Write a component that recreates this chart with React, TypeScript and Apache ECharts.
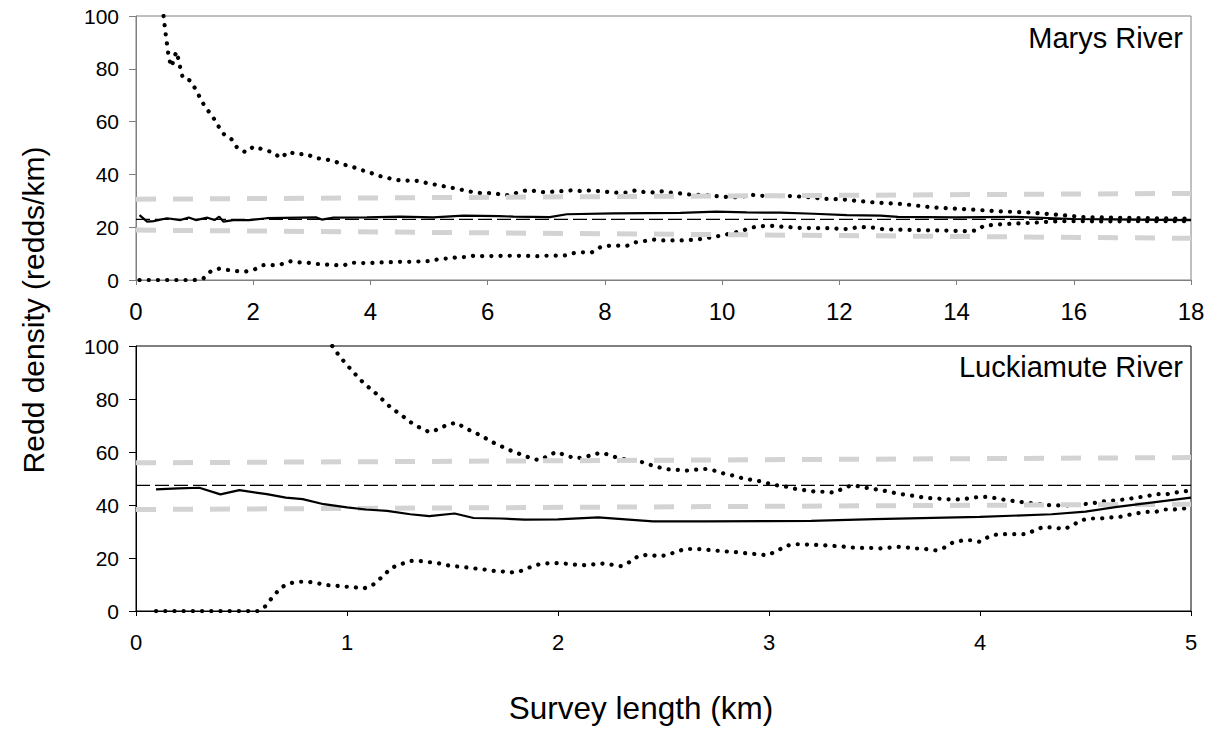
import React, { useEffect, useRef } from "react";
import * as echarts from "echarts";

// ---------- Data (km, redds/km) ----------
const marysXTicks = [0, 2, 4, 6, 8, 10, 12, 14, 16, 18];
const luckXTicks = [0, 1, 2, 3, 4, 5];
const yTicks = [0, 20, 40, 60, 80, 100];

const marysTrue = [[0, 23], [18, 23]];
const marysBandHi = [[0, 30.6], [18, 32.8]];
const marysBandLo = [[0, 18.9], [18, 15.8]];

const marysMean = [
  [0.06, 24.6], [0.19, 22.1], [0.3, 22.3], [0.53, 23.4], [0.76, 22.7], [0.9, 23.7], [1.02, 22.7],
  [1.22, 23.6], [1.34, 22.7], [1.42, 24.0], [1.49, 22.1], [1.66, 22.7], [1.94, 22.7], [2.23, 23.4],
  [2.8, 23.6], [3.08, 23.7], [3.17, 22.9], [3.37, 23.6], [3.94, 23.7], [4.5, 24.0], [5.07, 23.7],
  [5.59, 24.4], [6.2, 24.2], [6.44, 24.0], [7.06, 23.8], [7.35, 24.9], [8.15, 25.2], [9.29, 25.4],
  [9.9, 25.9], [10.42, 25.6], [10.99, 25.5], [11.56, 25.1], [12.13, 24.6], [12.7, 24.4], [13.0, 23.9],
  [14.0, 23.7], [15.0, 23.9], [16.0, 23.1], [17.0, 22.9], [18, 22.7],
];

const marysUpper = [
  [0.47, 100], [0.49, 96.2], [0.51, 92.5], [0.53, 89.2], [0.55, 85.8], [0.58, 82.6], [0.61, 80.8],
  [0.65, 84.2], [0.69, 86.5], [0.73, 83.2], [0.76, 79.8], [0.8, 76.5], [0.92, 75.6], [1.02, 72.2],
  [1.1, 68.7], [1.18, 65.5], [1.3, 62.2], [1.39, 58.8], [1.49, 55.4], [1.63, 53.3], [1.73, 50],
  [1.87, 48.4], [2.01, 50.6], [2.17, 49.4], [2.33, 48.4], [2.47, 46.2], [2.6, 48.6], [2.75, 47.6],
  [2.9, 47.8], [3.05, 46.3], [3.21, 45.7], [3.36, 45.2], [3.52, 43.8], [3.66, 43.2], [3.82, 41.8],
  [3.97, 40.9], [4.12, 39.6], [4.27, 38.8], [4.42, 38], [4.57, 37.5], [4.72, 37.8], [4.88, 37.2],
  [5.02, 36.4], [5.18, 35.9], [5.33, 35.1], [5.48, 34.6], [5.64, 33.7], [5.78, 33.2], [5.93, 32.8],
  [6.1, 33], [6.25, 32.2], [6.4, 32.2], [6.55, 33.5], [6.71, 34.1], [6.85, 33.5], [7.01, 33.2],
  [7.16, 33.6], [7.31, 33.7], [7.46, 34], [7.62, 33.6], [7.76, 34], [7.92, 33.6], [8.07, 33.3],
  [8.22, 33.1], [8.37, 33.1], [8.53, 34], [8.67, 33.3], [8.83, 33.2], [8.98, 33.6], [9.13, 33.1],
  [9.28, 32.8], [9.43, 32.4], [9.59, 32.3], [9.74, 32.1], [9.89, 31.8], [10.05, 31.5], [10.2, 31.3],
  [10.35, 31.6], [10.49, 32.3], [10.65, 31.9], [10.8, 31.9], [10.95, 31.8], [11.1, 31.8], [11.25, 31.8],
  [11.4, 31.4], [11.56, 31.3], [11.71, 30.7], [11.86, 30.7], [12.01, 30.6], [12.16, 30.3], [12.32, 29.9],
  [12.47, 29.7], [12.62, 29.3], [13.07, 28.8], [13.6, 27.5], [14.17, 26.8], [14.74, 26], [15.31, 25.5],
  [15.77, 24.6], [16.2, 23.8], [17.0, 23.5], [18, 23.2],
];

const marysLower = [
  [0.06, 0], [1.0, 0], [1.15, 0.6], [1.28, 3.4], [1.42, 4.3], [1.57, 3.8], [1.72, 3.4], [1.87, 3.2],
  [2.02, 4.0], [2.17, 5.6], [2.31, 5.6], [2.46, 5.8], [2.62, 7.1], [2.77, 6.7], [2.92, 6.6], [3.07, 6.1],
  [3.23, 5.9], [3.37, 5.7], [3.53, 5.4], [3.67, 6.6], [3.83, 6.4], [3.98, 6.4], [4.13, 6.6], [4.28, 6.7],
  [4.43, 6.9], [4.73, 6.9], [4.89, 7.1], [5.04, 7.2], [5.19, 8.1], [5.34, 8.1], [5.49, 8.7], [5.64, 8.7],
  [5.79, 9.3], [5.94, 9.0], [6.1, 9.1], [6.4, 9.2], [6.71, 9.1], [6.86, 9.0], [7.01, 9.2], [7.17, 9.2],
  [7.32, 9.3], [7.47, 10.2], [7.62, 10.5], [7.77, 10.4], [7.92, 12.4], [8.08, 13], [8.38, 13], [8.53, 14.3],
  [8.69, 14.8], [8.83, 15.3], [8.99, 15], [9.29, 15], [9.44, 15.2], [9.6, 15.4], [9.75, 15.9], [9.9, 16.5],
  [10.06, 17.2], [10.21, 17.9], [10.36, 18.8], [10.51, 19.9], [10.66, 20.3], [10.81, 20.6], [10.97, 20.3],
  [11.11, 20.1], [11.27, 19.8], [11.42, 19.7], [11.88, 19.6], [12.03, 19.3], [12.17, 19.3], [12.32, 20.1],
  [12.47, 20], [12.62, 19.8], [12.75, 19.2], [13.32, 18.9], [13.89, 18.7], [14.15, 18.5], [14.35, 18.8],
  [14.46, 20.5], [14.74, 21.1], [15.31, 21.7], [15.77, 22.3], [16.5, 22.2], [17.2, 22.3], [18, 22.3],
];

const luckTrue = [[0, 47.4], [5, 47.4]];
const luckBandHi = [[0, 55.9], [5, 57.9]];
const luckBandLo = [[0, 38.3], [5, 40.3]];

const luckMean = [
  [0.095, 45.9], [0.2, 46.3], [0.3, 46.5], [0.4, 44], [0.49, 45.6], [0.62, 44.1], [0.71, 42.8],
  [0.79, 42.2], [0.89, 40.3], [1.0, 39.1], [1.09, 38.3], [1.19, 37.8], [1.3, 36.5], [1.39, 35.8],
  [1.51, 36.8], [1.6, 35.1], [1.73, 34.9], [1.84, 34.5], [2.0, 34.6], [2.19, 35.3], [2.45, 33.8],
  [2.7, 33.8], [2.99, 33.9], [3.2, 34.0], [3.5, 34.7], [4.0, 35.5], [4.34, 36.5], [4.5, 37.5],
  [4.65, 39.3], [5.0, 42.8],
];

const luckUpper = [
  [0.93, 100], [0.963, 96.3], [1.0, 92.8], [1.04, 89.3], [1.08, 85.9], [1.13, 82.6], [1.17, 79.6],
  [1.21, 76.6], [1.26, 73.8], [1.3, 71.3], [1.34, 69.4], [1.39, 67.5], [1.43, 68.5], [1.48, 70.5],
  [1.52, 71], [1.56, 69], [1.61, 67.2], [1.65, 65.5], [1.69, 63.7], [1.73, 62.2], [1.78, 60.4],
  [1.82, 59.2], [1.87, 57.7], [1.91, 56.9], [1.95, 58.4], [1.99, 60], [2.04, 58.7], [2.08, 57.6],
  [2.13, 58.1], [2.17, 59.2], [2.21, 59.7], [2.26, 58.4], [2.3, 57.4], [2.35, 57], [2.39, 56.4],
  [2.43, 55.3], [2.48, 54.2], [2.52, 53.5], [2.56, 53.3], [2.61, 53.0], [2.65, 53.3], [2.7, 53.6],
  [2.74, 53.0], [2.78, 52.0], [2.83, 51.1], [2.87, 50.2], [2.91, 49.6], [2.96, 48.9], [3.0, 48.1],
  [3.04, 47.4], [3.09, 46.8], [3.13, 46], [3.17, 45.6], [3.22, 45], [3.26, 45], [3.31, 44.7],
  [3.35, 46.2], [3.39, 47.4], [3.43, 47.0], [3.48, 46.2], [3.53, 45.6], [3.57, 45], [3.61, 44.3],
  [3.65, 43.8], [3.7, 43.3], [3.74, 42.7], [3.79, 42.5], [3.83, 42.2], [3.88, 42.1], [3.92, 42.2],
  [3.96, 42.7], [4.0, 43.1], [4.04, 43.0], [4.08, 42.5], [4.13, 41.8], [4.18, 41.3], [4.22, 40.9],
  [4.26, 40.6], [4.31, 40], [4.36, 39.9], [4.4, 39.8], [4.45, 40], [4.49, 40.3], [4.53, 40.6],
  [4.57, 41.2], [4.61, 41.6], [4.65, 41.8], [4.7, 42.2], [4.74, 42.8], [4.79, 43.3], [4.83, 44.1],
  [4.88, 44], [4.92, 44.6], [4.97, 45.2], [5.0, 45.4],
];

const luckLower = [
  [0.095, 0], [0.58, 0], [0.615, 1.9], [0.65, 5.6], [0.69, 9], [0.73, 10.5], [0.77, 11], [0.81, 11.1],
  [0.86, 10.5], [0.9, 9.8], [0.95, 9.5], [0.99, 9.2], [1.03, 9], [1.08, 8.5], [1.12, 9.7], [1.17, 13.1],
  [1.21, 16.3], [1.25, 17.5], [1.3, 18.9], [1.34, 18.9], [1.38, 18.5], [1.43, 18.1], [1.47, 17.3],
  [1.51, 16.9], [1.56, 16.5], [1.6, 16.1], [1.64, 15.8], [1.69, 15.2], [1.73, 15], [1.77, 14.5],
  [1.82, 15], [1.86, 16.3], [1.91, 17.6], [1.95, 18], [1.99, 18.1], [2.03, 17.9], [2.08, 17.5],
  [2.12, 17.3], [2.17, 17.6], [2.21, 17.9], [2.25, 17.5], [2.3, 16.9], [2.34, 18.5], [2.38, 20.7],
  [2.43, 21.3], [2.47, 20.7], [2.51, 21], [2.56, 22.3], [2.6, 23.4], [2.64, 23.4], [2.69, 23.3],
  [2.73, 22.9], [2.78, 22.6], [2.82, 22.3], [2.86, 22.1], [2.9, 21.7], [2.95, 21.4], [2.99, 21],
  [3.04, 22.7], [3.08, 24.6], [3.13, 25.2], [3.17, 25.1], [3.21, 25], [3.26, 24.8], [3.3, 24.6],
  [3.35, 24.3], [3.39, 24.0], [3.43, 23.8], [3.48, 23.8], [3.53, 23.6], [3.57, 23.9], [3.61, 24.2],
  [3.65, 24], [3.7, 23.6], [3.74, 23.4], [3.79, 22.9], [3.83, 23.9], [3.87, 25.8], [3.92, 26.7],
  [3.96, 26.7], [4.0, 26.1], [4.04, 28], [4.08, 28.9], [4.13, 29], [4.22, 29], [4.26, 30.5],
  [4.3, 31.7], [4.35, 31.5], [4.4, 30.9], [4.44, 32.4], [4.48, 34.3], [4.53, 34.9], [4.57, 34.9],
  [4.61, 35.3], [4.65, 35.3], [4.7, 36.2], [4.74, 36.8], [4.79, 37.4], [4.83, 37.4], [4.88, 38.3],
  [4.92, 38.3], [4.97, 38.7], [5.0, 39.1],
];

const FONT = "'Liberation Sans', Arial, Helvetica, sans-serif";

function makeSeries(idx: number, upper: number[][], lower: number[][], hi: number[][], lo: number[][], tru: number[][], mean: number[][]) {
  const base = { type: "line", xAxisIndex: idx, yAxisIndex: idx, showSymbol: false, symbol: "none", silent: true, clip: true };
  const dotted = { color: "#000", width: 4.2, type: [0.1, 9.1], cap: "round" };
  const gray = { color: "#d3d3d3", width: 5, type: [20, 17], cap: "butt" };
  return [
    { ...base, name: "upper", data: upper, lineStyle: dotted, z: 2 },
    { ...base, name: "lower", data: lower, lineStyle: dotted, z: 2 },
    { ...base, name: "hi", data: hi, lineStyle: gray, z: 3 },
    { ...base, name: "lo", data: lo, lineStyle: gray, z: 3 },
    { ...base, name: "true", data: tru, lineStyle: { color: "#000", width: 1.2, type: [14, 5] }, z: 4 },
    { ...base, name: "mean", data: mean, lineStyle: { color: "#000", width: 2.2 }, z: 5 },
  ];
}

function xAxis(idx: number, max: number, interval: number, color: string, fontSize: number, margin: number) {
  return {
    type: "value", gridIndex: idx, min: 0, max, interval,
    axisLine: { show: true, onZero: false, lineStyle: { color, width: 1 } },
    axisTick: { show: true, inside: false, length: 5, lineStyle: { color } },
    axisLabel: { fontSize, color: "#000", fontFamily: FONT, margin },
    splitLine: { show: false },
  };
}
function yAxis(idx: number, color: string) {
  return {
    type: "value", gridIndex: idx, min: yTicks[0], max: yTicks[yTicks.length - 1], interval: yTicks[1] - yTicks[0],
    axisLine: { show: true, onZero: false, lineStyle: { color, width: 1 } },
    axisTick: { show: true, inside: false, length: 7, lineStyle: { color } },
    axisLabel: { fontSize: 21, color: "#000", fontFamily: FONT, margin: 17 },
    splitLine: { show: false },
  };
}

export default function App() {
  const ref = useRef<HTMLDivElement>(null);
  useEffect(() => {
    document.body.style.margin = "0";
    const chart = echarts.init(ref.current!, null, { renderer: "svg" });
    const option = {
      animation: false,
      backgroundColor: "#fff",
      grid: [
        { left: 136, top: 16, width: 1055, height: 264, show: true, borderColor: "#808080", borderWidth: 1, backgroundColor: "transparent" },
        { left: 136, top: 346, width: 1055, height: 265, show: true, borderColor: "#000", borderWidth: 1, backgroundColor: "transparent" },
      ],
      xAxis: [
        xAxis(0, marysXTicks[marysXTicks.length - 1], marysXTicks[1] - marysXTicks[0], "#808080", 24, 19),
        xAxis(1, luckXTicks[luckXTicks.length - 1], luckXTicks[1] - luckXTicks[0], "#000", 22, 20),
      ],
      yAxis: [yAxis(0, "#808080"), yAxis(1, "#000")],
      series: [
        ...makeSeries(0, marysUpper, marysLower, marysBandHi, marysBandLo, marysTrue, marysMean),
        ...makeSeries(1, luckUpper, luckLower, luckBandHi, luckBandLo, luckTrue, luckMean),
      ],
      graphic: [
        { type: "text", right: 29, top: 23, style: { text: "Marys River", font: `29px ${FONT}`, fill: "#000" } },
        { type: "text", right: 29, top: 352, style: { text: "Luckiamute River", font: `29px ${FONT}`, fill: "#000" } },
        { type: "text", x: 33, y: 310, rotation: Math.PI / 2, style: { text: "Redd density (redds/km)", font: `30px ${FONT}`, fill: "#000", align: "center", verticalAlign: "middle" } },
        { type: "text", x: 641, y: 708, style: { text: "Survey length (km)", font: `31.5px ${FONT}`, fill: "#000", align: "center", verticalAlign: "middle" } },
      ],
    };
    chart.setOption(option as any);
    return () => chart.dispose();
  }, []);
  return <div ref={ref} style={{ width: 1212, height: 730 }} />;
}
